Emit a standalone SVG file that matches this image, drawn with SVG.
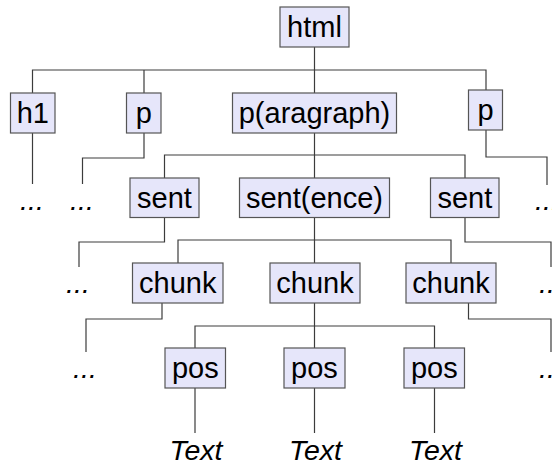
<svg xmlns="http://www.w3.org/2000/svg" width="552" height="465" viewBox="0 0 552 465">
  <style>
    .box { fill: #e6e6fa; stroke: #555555; stroke-width: 1.2; }
    .lbl { font-family: "Liberation Sans", Arial, sans-serif; font-size: 29px; fill: #000000; text-anchor: middle; }
    .it { font-family: "Liberation Sans", Arial, sans-serif; font-size: 28.5px; font-style: italic; fill: #000000; text-anchor: middle; }
    .wire { fill: none; stroke: #3c3c3c; stroke-width: 1.2; }
  </style>
  <rect width="552" height="465" fill="#ffffff"/>

  <!-- tree edges -->
  <g id="connectors">
    <!-- html to its children -->
    <path class="wire" d="M314.5 47 V70 M32.5 93 V70 H486 V90 M144 70 V93 M314.5 70 V93"/>
    <!-- level 1 to level 2 -->
    <path class="wire" d="M32.5 133 V184"/>
    <path class="wire" d="M144 133 V158 H82.5 V184"/>
    <path class="wire" d="M314.5 133 V155 M164.5 178 V155 H465 V178 M314.5 155 V178"/>
    <path class="wire" d="M486 130 V157 H547 V185"/>
    <!-- level 2 to level 3 -->
    <path class="wire" d="M164.5 217 V242 H79 V267"/>
    <path class="wire" d="M314.5 217 V240 M178 263 V240 H451 V263 M314.5 240 V263"/>
    <path class="wire" d="M465 217 V242 H551 V267"/>
    <!-- level 3 to level 4 -->
    <path class="wire" d="M162 303 V319 H86 V352"/>
    <path class="wire" d="M314.5 303 V326 M195 348 V326 H434.5 V348 M314.5 326 V348"/>
    <path class="wire" d="M468.5 303 V319 H551 V352"/>
    <!-- pos to leaves -->
    <path class="wire" d="M195 388 V433 M314.5 388 V433 M434.5 388 V433"/>
  </g>

  <g id="n-html"><rect class="box" x="280" y="7" width="69" height="40"/><text class="lbl" x="314.5" y="37">html</text></g>

  <g id="n-h1"><rect class="box" x="10.5" y="93" width="44.5" height="40"/><text class="lbl" x="32.8" y="123">h1</text></g>
  <g id="n-p1"><rect class="box" x="126.5" y="93" width="34.5" height="40"/><text class="lbl" x="143.8" y="123">p</text></g>
  <g id="n-paragraph"><rect class="box" x="232.5" y="93" width="164" height="40"/><text class="lbl" x="314.5" y="123">p(aragraph)</text></g>
  <g id="n-p2"><rect class="box" x="468.5" y="90" width="34" height="40"/><text class="lbl" x="485.5" y="120">p</text></g>

  <g id="n-sent1"><rect class="box" x="130" y="178" width="69" height="39.5"/><text class="lbl" x="164.5" y="208">sent</text></g>
  <g id="n-sentence"><rect class="box" x="239.5" y="178" width="150" height="39.5"/><text class="lbl" x="314.5" y="208">sent(ence)</text></g>
  <g id="n-sent2"><rect class="box" x="430.5" y="178" width="68.5" height="39.5"/><text class="lbl" x="464.8" y="208">sent</text></g>

  <g id="n-chunk1"><rect class="box" x="132.5" y="263" width="90.5" height="40"/><text class="lbl" x="177.8" y="293">chunk</text></g>
  <g id="n-chunk2"><rect class="box" x="270" y="263" width="90" height="40"/><text class="lbl" x="315" y="293">chunk</text></g>
  <g id="n-chunk3"><rect class="box" x="406" y="263" width="90" height="40"/><text class="lbl" x="451" y="293">chunk</text></g>

  <g id="n-pos1"><rect class="box" x="165" y="348" width="60.5" height="40"/><text class="lbl" x="195.3" y="378">pos</text></g>
  <g id="n-pos2"><rect class="box" x="284" y="348" width="61" height="40"/><text class="lbl" x="314.5" y="378">pos</text></g>
  <g id="n-pos3"><rect class="box" x="404" y="348" width="60.5" height="40"/><text class="lbl" x="434.3" y="378">pos</text></g>

  <!-- leaves and elided branches -->
  <g id="leaves">
    <text class="it" x="196" y="459.5">Text</text>
    <text class="it" x="315.5" y="459.5">Text</text>
    <text class="it" x="435.5" y="459.5">Text</text>
    <text class="it" x="32" y="210">...</text>
    <text class="it" x="82" y="210">...</text>
    <text class="it" x="547" y="210">...</text>
    <text class="it" x="78" y="293">...</text>
    <text class="it" x="551" y="293">...</text>
    <text class="it" x="85" y="378">...</text>
    <text class="it" x="551" y="378">...</text>
  </g>
</svg>
